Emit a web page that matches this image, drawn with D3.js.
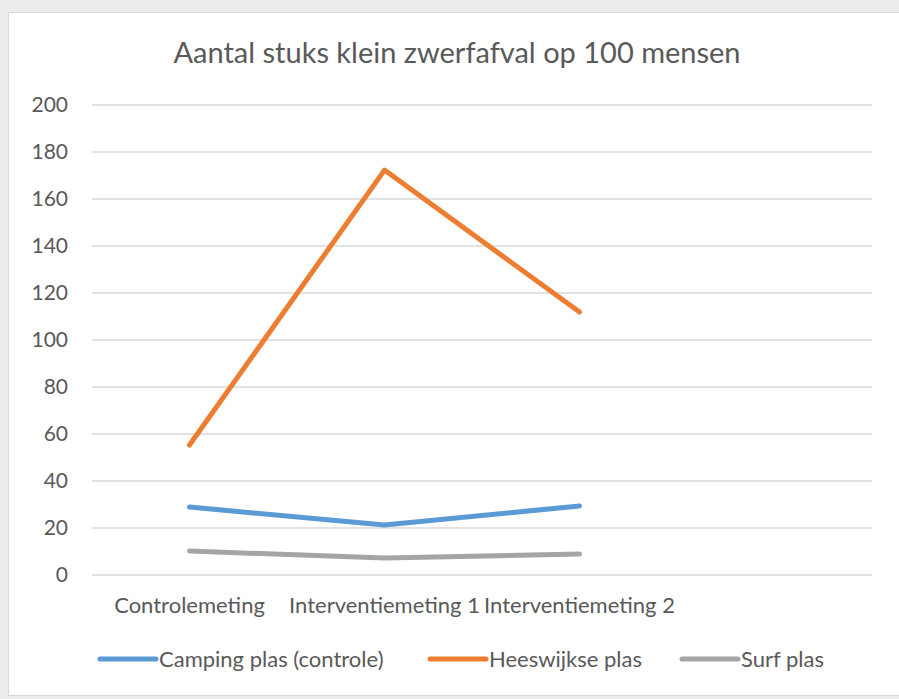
<!DOCTYPE html>
<html>
<head>
<meta charset="utf-8">
<script src="https://cdn.jsdelivr.net/npm/d3@7"></script>
<style>
  body { margin: 0; background: #ececec; }
  text { font-family: Lato, "Open Sans", sans-serif; fill: #595959; }
</style>
</head>
<body>
<div id="chart"></div>
<script>
// data
var categories = ["Controlemeting", "Interventiemeting 1", "Interventiemeting 2", ""];
var camping = [28.9, 21.3, 29.4];
var heeswijkse = [55.3, 172.3, 111.9];
var surf = [10.2, 7.2, 8.9];
var yTicks = [0, 20, 40, 60, 80, 100, 120, 140, 160, 180, 200];

var series = [
  {name: "Camping plas (controle)", values: camping, color: "#5b9bd5"},
  {name: "Heeswijkse plas", values: heeswijkse, color: "#ed7d31"},
  {name: "Surf plas", values: surf, color: "#a5a5a5"}
];

var W = 899, H = 699;
var svg = d3.select("#chart").append("svg")
    .attr("width", W)
    .attr("height", H);

// chart area
svg.append("rect")
    .attr("x", 8.5).attr("y", 12.5)
    .attr("width", 900).attr("height", 683)
    .attr("fill", "#fff")
    .attr("stroke", "#d9d9d9");

var margin = {left: 92, right: 27, top: 105, bottom: 124};
var x = d3.scaleBand()
    .domain(categories.map(function(d, i) { return i; }))
    .range([margin.left, W - margin.right]);
var y = d3.scaleLinear()
    .domain([0, 200])
    .range([H - margin.bottom, margin.top]);

// title
svg.append("text")
    .attr("x", 457).attr("y", 63)
    .attr("text-anchor", "middle")
    .style("font-size", "29px")
    .text("Aantal stuks klein zwerfafval op 100 mensen");

// gridlines
svg.append("g")
    .selectAll("line")
    .data(yTicks)
    .enter()
    .append("line")
    .attr("x1", margin.left)
    .attr("x2", W - margin.right)
    .attr("y1", function(d) { return y(d); })
    .attr("y2", function(d) { return y(d); })
    .attr("stroke", "#d9d9d9")
    .attr("stroke-width", 1.5);

// y axis labels
var yAxis = svg.append("g")
    .attr("transform", "translate(" + (margin.left - 24) + ",0)")
    .call(d3.axisLeft(y).tickValues(yTicks).tickSize(0).tickPadding(0));
yAxis.select(".domain").remove();
yAxis.selectAll("text").style("font-size", "21px").attr("fill", "#595959");

// x axis labels
var xAxis = svg.append("g")
    .attr("transform", "translate(0," + (y(0) + 20) + ")")
    .call(d3.axisBottom(x).tickFormat(function(i) { return categories[i]; }).tickSize(0).tickPadding(2));
xAxis.select(".domain").remove();
xAxis.selectAll("text").style("font-size", "22px").attr("fill", "#595959");

// lines
var line = d3.line()
    .x(function(d, i) { return x(i) + x.bandwidth() / 2; })
    .y(function(d) { return y(d); });

svg.append("g")
    .selectAll("path")
    .data(series)
    .enter()
    .append("path")
    .attr("fill", "none")
    .attr("stroke", function(d) { return d.color; })
    .attr("stroke-width", 5)
    .attr("stroke-linecap", "round")
    .attr("stroke-linejoin", "round")
    .attr("d", function(d) { return line(d.values); });

// legend
var legendX = [100, 430, 682];
var legend = svg.append("g")
    .selectAll("g")
    .data(series)
    .enter()
    .append("g")
    .attr("transform", function(d, i) { return "translate(" + legendX[i] + ",659)"; });
legend.append("line")
    .attr("x1", 0).attr("x2", 56)
    .attr("stroke", function(d) { return d.color; })
    .attr("stroke-width", 5)
    .attr("stroke-linecap", "round");
legend.append("text")
    .attr("x", 59).attr("dy", "0.35em")
    .style("font-size", "22px")
    .text(function(d) { return d.name; });
</script>
</body>
</html>
